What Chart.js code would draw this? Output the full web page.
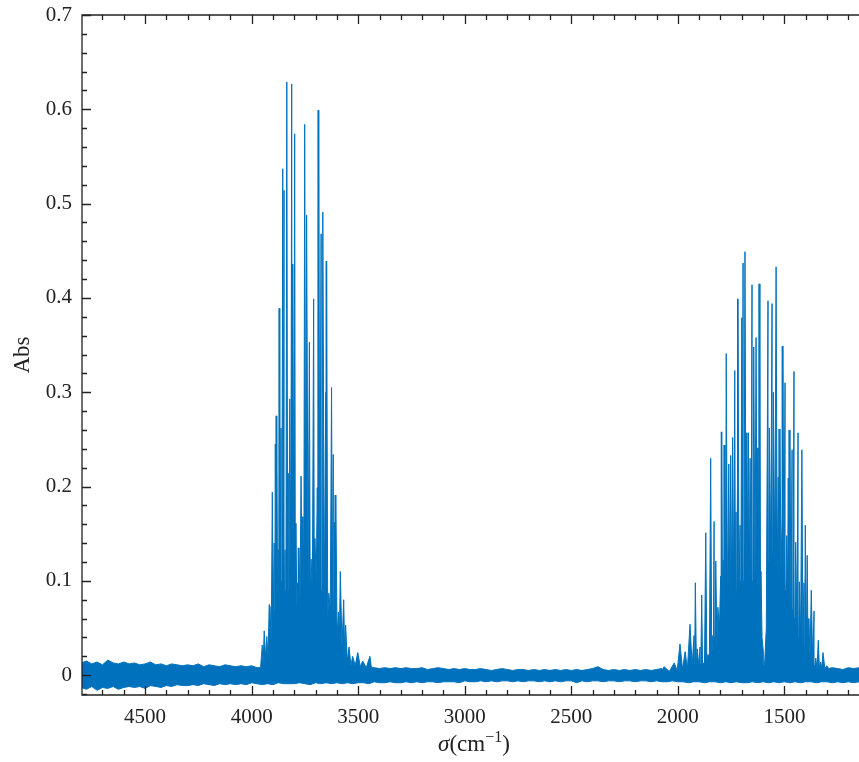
<!DOCTYPE html>
<html>
<head>
<meta charset="utf-8">
<script src="https://cdn.jsdelivr.net/npm/chart.js@4.4.1/dist/chart.umd.min.js"></script>
<style>
  html, body { margin: 0; padding: 0; background: #fff; }
  canvas { display: block; }
</style>
</head>
<body>
<canvas id="spectrum" width="859" height="762"></canvas>
<script>
// tick labels
const xTicks = [4500, 4000, 3500, 3000, 2500, 2000, 1500];
const yTicks = [0, 0.1, 0.2, 0.3, 0.4, 0.5, 0.6, 0.7];

// baseline noise envelope, one value every 25 cm-1 from 4800 down to 1150
const gridStart = 4800;
const gridStep = 25;
const baseTop = [
  0.013, 0.015, 0.012, 0.014, 0.011, 0.016, 0.013, 0.012, 0.014, 0.012,
  0.013, 0.011, 0.012, 0.014, 0.011, 0.012, 0.010, 0.012, 0.011, 0.010,
  0.011, 0.010, 0.012, 0.009, 0.011, 0.010, 0.009, 0.011, 0.010, 0.009,
  0.010, 0.009, 0.010, 0.008, 0.009, 0.009, 0.009, 0.009, 0.009, 0.009,
  0.009, 0.009, 0.009, 0.009, 0.009, 0.009, 0.009, 0.009, 0.009, 0.009,
  0.009, 0.009, 0.008, 0.009, 0.008, 0.008, 0.007, 0.008, 0.007, 0.008,
  0.007, 0.008, 0.007, 0.007, 0.008, 0.006, 0.007, 0.008, 0.007, 0.006,
  0.007, 0.006, 0.007, 0.006, 0.006, 0.007, 0.006, 0.005, 0.006, 0.007,
  0.006, 0.005, 0.006, 0.006, 0.005, 0.006, 0.005, 0.006, 0.005, 0.006,
  0.005, 0.006, 0.005, 0.006, 0.005, 0.006, 0.007, 0.009, 0.006, 0.005,
  0.006, 0.005, 0.006, 0.005, 0.006, 0.005, 0.006, 0.005, 0.006, 0.007,
  0.006, 0.007, 0.007, 0.007, 0.007, 0.007, 0.007, 0.007, 0.007, 0.007,
  0.007, 0.007, 0.007, 0.007, 0.007, 0.007, 0.007, 0.007, 0.007, 0.007,
  0.007, 0.007, 0.007, 0.007, 0.007, 0.007, 0.007, 0.007, 0.007, 0.007,
  0.007, 0.008, 0.007, 0.006, 0.008, 0.007, 0.008
];
const baseBot = [
  -0.013, -0.015, -0.012, -0.016, -0.013, -0.014, -0.012, -0.015, -0.013, -0.012,
  -0.013, -0.012, -0.014, -0.011, -0.012, -0.013, -0.011, -0.012, -0.010, -0.011,
  -0.011, -0.010, -0.011, -0.009, -0.010, -0.011, -0.009, -0.010, -0.009, -0.010,
  -0.009, -0.010, -0.008, -0.009, -0.010, -0.009, -0.010, -0.008, -0.009, -0.009,
  -0.009, -0.008, -0.009, -0.010, -0.008, -0.009, -0.008, -0.009, -0.008, -0.009,
  -0.008, -0.009, -0.008, -0.008, -0.009, -0.007, -0.008, -0.008, -0.007, -0.008,
  -0.008, -0.007, -0.008, -0.007, -0.008, -0.007, -0.007, -0.008, -0.007, -0.007,
  -0.007, -0.008, -0.006, -0.007, -0.007, -0.006, -0.007, -0.006, -0.007, -0.006,
  -0.006, -0.007, -0.006, -0.007, -0.006, -0.006, -0.007, -0.006, -0.007, -0.006,
  -0.007, -0.006, -0.006, -0.008, -0.006, -0.007, -0.006, -0.006, -0.007, -0.006,
  -0.006, -0.007, -0.006, -0.006, -0.007, -0.006, -0.006, -0.007, -0.006, -0.007,
  -0.007, -0.006, -0.007, -0.007, -0.008, -0.007, -0.007, -0.008, -0.007, -0.007,
  -0.008, -0.007, -0.008, -0.007, -0.008, -0.008, -0.007, -0.008, -0.007, -0.008,
  -0.007, -0.008, -0.007, -0.008, -0.007, -0.008, -0.007, -0.007, -0.008, -0.007,
  -0.007, -0.008, -0.007, -0.008, -0.007, -0.008, -0.007
];

// O-H stretching band: peaks and the valleys between them
const band1Nu = [
  3958, 3950, 3946, 3941, 3935, 3929, 3923, 3918, 3916, 3914, 3908, 3903, 3898, 3894,
  3891, 3889, 3885, 3882, 3878, 3875, 3871, 3868, 3865, 3862, 3858, 3854, 3851, 3848,
  3846, 3843, 3839, 3835, 3831, 3828, 3825, 3821, 3816, 3812, 3810, 3807, 3802, 3798,
  3795, 3792, 3788, 3784, 3781, 3778, 3773, 3768, 3763, 3759, 3755, 3751, 3746, 3742,
  3735, 3729, 3725, 3721, 3715, 3709, 3706, 3703, 3697, 3692, 3688, 3685, 3680, 3674,
  3670, 3666, 3659, 3652, 3650, 3648, 3643, 3638, 3631, 3625, 3621, 3617, 3614, 3612,
  3608, 3605, 3599, 3593, 3588, 3584, 3576, 3568, 3563, 3559, 3551, 3543, 3534, 3526,
  3514, 3502, 3490, 3479, 3462, 3445, 3438
];
const band1Abs = [
  0.008, 0.032, 0.012, 0.047, 0.018, 0.041, 0.020, 0.075, 0.040, 0.073, 0.035, 0.194, 0.060, 0.140,
  0.070, 0.245, 0.080, 0.275, 0.070, 0.133, 0.080, 0.389, 0.090, 0.262, 0.100, 0.537, 0.110, 0.514,
  0.080, 0.133, 0.090, 0.629, 0.100, 0.214, 0.090, 0.293, 0.110, 0.627, 0.100, 0.436, 0.120, 0.574,
  0.090, 0.161, 0.070, 0.098, 0.060, 0.135, 0.080, 0.211, 0.090, 0.168, 0.100, 0.584, 0.120, 0.488,
  0.100, 0.353, 0.080, 0.123, 0.090, 0.399, 0.080, 0.145, 0.100, 0.199, 0.110, 0.599, 0.100, 0.468,
  0.090, 0.491, 0.080, 0.300, 0.100, 0.439, 0.060, 0.087, 0.070, 0.305, 0.080, 0.234, 0.070, 0.162,
  0.080, 0.191, 0.040, 0.067, 0.040, 0.110, 0.030, 0.080, 0.020, 0.053, 0.015, 0.030, 0.010, 0.020,
  0.010, 0.024, 0.009, 0.015, 0.008, 0.020, 0.008
];

// H-O-H bending band
const band2Nu = [
  2072, 2065, 2040, 2017, 2003, 1990, 1978, 1966, 1955, 1943, 1933, 1924, 1921, 1918,
  1913, 1909, 1902, 1896, 1892, 1888, 1884, 1880, 1875, 1869, 1864, 1859, 1852, 1846,
  1841, 1836, 1833, 1830, 1826, 1822, 1817, 1812, 1805, 1799, 1796, 1794, 1790, 1787,
  1783, 1779, 1776, 1773, 1767, 1761, 1756, 1752, 1747, 1743, 1738, 1733, 1730, 1727,
  1724, 1721, 1719, 1718, 1713, 1708, 1704, 1700, 1697, 1694, 1690, 1685, 1680, 1676,
  1672, 1669, 1665, 1661, 1656, 1652, 1648, 1644, 1638, 1633, 1628, 1624, 1619, 1615,
  1612, 1610, 1605, 1599, 1596, 1592, 1585, 1577, 1574, 1571, 1564, 1558, 1555, 1552,
  1545, 1539, 1534, 1529, 1525, 1521, 1516, 1511, 1509, 1507, 1502, 1497, 1493, 1489,
  1485, 1482, 1478, 1474, 1469, 1464, 1460, 1455, 1451, 1447, 1441, 1436, 1433, 1430,
  1424, 1418, 1413, 1408, 1405, 1402, 1397, 1393, 1389, 1385, 1380, 1374, 1367, 1361,
  1357, 1353, 1347, 1341, 1336, 1330, 1325, 1319, 1310, 1301, 1292
];
const band2Abs = [
  0.006, 0.009, 0.004, 0.013, 0.005, 0.033, 0.006, 0.025, 0.007, 0.054, 0.010, 0.042, 0.012, 0.098,
  0.010, 0.028, 0.010, 0.030, 0.012, 0.085, 0.010, 0.013, 0.012, 0.151, 0.015, 0.022, 0.020, 0.230,
  0.020, 0.042, 0.030, 0.163, 0.040, 0.121, 0.035, 0.072, 0.050, 0.105, 0.060, 0.258, 0.060, 0.122,
  0.060, 0.244, 0.070, 0.341, 0.070, 0.224, 0.080, 0.233, 0.080, 0.252, 0.090, 0.323, 0.080, 0.173,
  0.090, 0.205, 0.100, 0.399, 0.090, 0.159, 0.100, 0.379, 0.110, 0.437, 0.100, 0.449, 0.100, 0.257,
  0.110, 0.257, 0.100, 0.230, 0.100, 0.414, 0.100, 0.348, 0.100, 0.358, 0.090, 0.241, 0.080, 0.415,
  0.060, 0.110, 0.040, 0.025, 0.010, 0.016, 0.050, 0.397, 0.120, 0.262, 0.130, 0.394, 0.130, 0.300,
  0.120, 0.433, 0.110, 0.210, 0.120, 0.261, 0.110, 0.171, 0.100, 0.349, 0.100, 0.310, 0.090, 0.148,
  0.090, 0.209, 0.080, 0.260, 0.070, 0.239, 0.070, 0.322, 0.060, 0.141, 0.050, 0.257, 0.040, 0.099,
  0.040, 0.239, 0.030, 0.098, 0.030, 0.159, 0.025, 0.127, 0.020, 0.060, 0.018, 0.090, 0.012, 0.068,
  0.010, 0.018, 0.008, 0.037, 0.008, 0.014, 0.007, 0.024, 0.007, 0.010, 0.007
];

const blue = '#0072bd';
const ink = '#222222';
const tickFont = { family: 'Liberation Serif', size: 21 };

// top edge of the trace = baseline noise outside the bands, band contour inside
const gridNu = baseTop.map((_, i) => gridStart - i * gridStep);
const bands = [[band1Nu, band1Abs], [band2Nu, band2Abs]];
const inBand = nu => bands.some(([n]) => nu <= n[0] && nu >= n[n.length - 1]);

const upper = [];
gridNu.forEach((nu, i) => { if (!inBand(nu)) upper.push({ x: nu, y: baseTop[i] }); });
bands.forEach(([n, a]) => n.forEach((nu, i) => upper.push({ x: nu, y: a[i] })));
upper.sort((p, q) => p.x - q.x);
const lower = gridNu.map((nu, i) => ({ x: nu, y: baseBot[i] })).sort((p, q) => p.x - q.x);

// spines, inward ticks and axis titles
const frame = {
  id: 'frame',
  afterDatasetsDraw(chart) {
    const { ctx, chartArea: { left, right, top, bottom }, scales: { x, y } } = chart;
    ctx.save();
    ctx.strokeStyle = ink;
    ctx.lineWidth = 1.3;
    ctx.beginPath();
    ctx.moveTo(right, top);
    ctx.lineTo(left, top);
    ctx.lineTo(left, bottom);
    ctx.lineTo(right, bottom);
    ctx.stroke();

    ctx.beginPath();
    for (let v = 1200; v <= 4700; v += 100) {
      const px = Math.round(x.getPixelForValue(v)) + 0.5;
      const len = v % 500 === 0 ? 9 : 5;
      ctx.moveTo(px, bottom);
      ctx.lineTo(px, bottom - len);
      ctx.moveTo(px, top);
      ctx.lineTo(px, top + len);
    }
    for (let k = -1; k <= 35; k++) {
      const v = k * 0.02;
      const py = Math.round(y.getPixelForValue(v)) + 0.5;
      if (py < top || py > bottom) continue;
      const len = k % 5 === 0 ? 9 : 5;
      ctx.moveTo(left, py);
      ctx.lineTo(left + len, py);
    }
    ctx.stroke();

    // y title
    ctx.fillStyle = ink;
    ctx.font = '23px "Liberation Serif"';
    ctx.textAlign = 'center';
    ctx.textBaseline = 'alphabetic';
    ctx.save();
    ctx.translate(29, (top + bottom) / 2);
    ctx.rotate(-Math.PI / 2);
    ctx.fillText('Abs', 0, 0);
    ctx.restore();

    // x title: sigma(cm^-1)
    const parts = [
      { t: 'σ', f: 'italic 23px "Liberation Serif"', dy: 0 },
      { t: '(cm', f: '23px "Liberation Serif"', dy: 0 },
      { t: '−1', f: '16px "Liberation Serif"', dy: -9 },
      { t: ')', f: '23px "Liberation Serif"', dy: 0 }
    ];
    ctx.textAlign = 'left';
    let w = 0;
    parts.forEach(p => { ctx.font = p.f; p.w = ctx.measureText(p.t).width; w += p.w; });
    let cx = 474 - w / 2;
    parts.forEach(p => {
      ctx.font = p.f;
      ctx.fillText(p.t, cx, 751 + p.dy);
      cx += p.w;
    });
    ctx.restore();
  }
};

new Chart(document.getElementById('spectrum'), {
  type: 'line',
  data: {
    datasets: [
      {
        data: upper,
        borderColor: blue,
        backgroundColor: blue,
        borderWidth: 1,
        pointRadius: 0,
        tension: 0,
        fill: '+1'
      },
      {
        data: lower,
        borderColor: blue,
        borderWidth: 1,
        pointRadius: 0,
        tension: 0,
        fill: false
      }
    ]
  },
  options: {
    responsive: false,
    animation: false,
    events: [],
    layout: { padding: { top: 15, right: 0, left: 0, bottom: 0 } },
    plugins: { legend: { display: false }, tooltip: { enabled: false } },
    scales: {
      x: {
        type: 'linear',
        reverse: true,
        min: 1150,
        max: 4796,
        afterFit: s => { s.height = 67; s.paddingLeft = 0; s.paddingRight = 0; },
        afterBuildTicks: s => { s.ticks = xTicks.map(v => ({ value: v })); },
        grid: { display: false, drawTicks: false },
        border: { display: false },
        ticks: {
          font: tickFont,
          color: ink,
          padding: 10,
          maxRotation: 0,
          callback: v => String(v)
        }
      },
      y: {
        type: 'linear',
        min: -0.021,
        max: 0.7,
        afterFit: s => { s.width = 82; s.paddingTop = 0; s.paddingBottom = 0; },
        afterBuildTicks: s => { s.ticks = yTicks.map(v => ({ value: v })); },
        grid: { display: false, drawTicks: false },
        border: { display: false },
        ticks: {
          font: tickFont,
          color: ink,
          padding: 10,
          callback: v => (v === 0 ? '0' : v.toFixed(1))
        }
      }
    }
  },
  plugins: [frame]
});
</script>
</body>
</html>
